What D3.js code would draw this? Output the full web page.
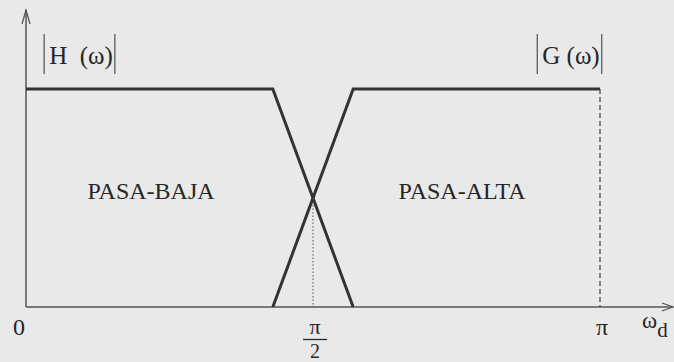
<!DOCTYPE html>
<html>
<head>
<meta charset="utf-8">
<script src="https://cdn.jsdelivr.net/npm/d3@7"></script>
<style>
  body { margin: 0; background: #e9e9e9; }
</style>
</head>
<body>
<div id="chart"></div>
<script>
// frequency in units of pi, magnitude 0..1
const lowPass = [[0, 1], [0.43, 1], [0.57, 0]];
const highPass = [[0.43, 0], [0.57, 1], [1, 1]];
const crossing = [0.5, 0.5];
const xTicks = [{ v: 0, label: "0" }, { v: 1, label: "π" }];

let width = 674,
  height = 362,
  margin = ({ top: 10, right: 1, bottom: 55, left: 26 });

const svg = d3.select("#chart")
  .append("svg")
  .attr("width", width)
  .attr("height", height)
  .style("font-family", "'Liberation Serif', 'Times New Roman', serif");

let x = d3.scaleLinear()
  .domain([0, 1])
  .range([margin.left, 600]);

let y = d3.scaleLinear()
  .domain([0, 1])
  .range([height - margin.bottom, 89]);

const ink = "#333";
const txt = "#262626";

// axes
svg.append("line")
  .attr("x1", x(0)).attr("x2", width - margin.right)
  .attr("y1", y(0)).attr("y2", y(0))
  .attr("stroke", "#555").attr("stroke-width", 1.5);
svg.append("line")
  .attr("x1", x(0)).attr("x2", x(0))
  .attr("y1", y(0)).attr("y2", margin.top)
  .attr("stroke", "#555").attr("stroke-width", 1.5);

// arrow heads
svg.append("path")
  .attr("d", `M${width - 12},${y(0) - 4} L${width - margin.right},${y(0)} L${width - 12},${y(0) + 4}`)
  .attr("fill", "none").attr("stroke", "#555").attr("stroke-width", 1.3);
svg.append("path")
  .attr("d", `M${x(0) - 4},${margin.top + 14} L${x(0)},${margin.top} L${x(0) + 4},${margin.top + 14}`)
  .attr("fill", "none").attr("stroke", "#555").attr("stroke-width", 1.3);

const line = d3.line().x(d => x(d[0])).y(d => y(d[1]));

svg.append("path").datum(lowPass)
  .attr("d", line).attr("fill", "none")
  .attr("stroke", ink).attr("stroke-width", 3);
svg.append("path").datum(highPass)
  .attr("d", line).attr("fill", "none")
  .attr("stroke", ink).attr("stroke-width", 3);

// dotted line at crossing, dashed line at pi
svg.append("line")
  .attr("x1", x(crossing[0])).attr("x2", x(crossing[0]))
  .attr("y1", y(crossing[1])).attr("y2", y(0))
  .attr("stroke", "#555").attr("stroke-width", 1).attr("stroke-dasharray", "1.5,2");
svg.append("line")
  .attr("x1", x(1)).attr("x2", x(1))
  .attr("y1", y(1)).attr("y2", y(0))
  .attr("stroke", "#444").attr("stroke-width", 1.2).attr("stroke-dasharray", "5,3");

// tick labels
svg.selectAll(".tick-label")
  .data(xTicks)
  .join("text")
  .attr("x", d => d.v === 0 ? x(d.v) - 7 : x(d.v) + 2)
  .attr("y", 335)
  .attr("text-anchor", "middle")
  .attr("font-size", 24)
  .attr("fill", txt)
  .text(d => d.label);

// pi/2 fraction
const half = svg.append("g").attr("transform", `translate(${x(0.5) + 2},0)`);
half.append("text").attr("y", 334).attr("text-anchor", "middle")
  .attr("font-size", 22).attr("fill", txt).text("π");
half.append("line").attr("x1", -12).attr("x2", 12)
  .attr("y1", 339.5).attr("y2", 339.5)
  .attr("stroke", txt).attr("stroke-width", 1.3);
half.append("text").attr("y", 357.5).attr("text-anchor", "middle")
  .attr("font-size", 20).attr("fill", txt).text("2");

// omega_d
const om = svg.append("text").attr("x", 642).attr("y", 328)
  .attr("font-size", 23).attr("fill", txt);
om.append("tspan").text("ω");
om.append("tspan").attr("dy", 9).attr("font-size", 21).text("d");

// magnitude labels
function magLabel(cx, label) {
  const t = svg.append("text").attr("x", cx).attr("y", 64)
    .attr("text-anchor", "middle").attr("font-size", 25).attr("fill", txt)
    .text(label);
  const bb = t.node().getBBox();
  [bb.x - 5, bb.x + bb.width + 2].forEach(xx => {
    svg.append("line").attr("x1", xx).attr("x2", xx)
      .attr("y1", 34).attr("y2", 74)
      .attr("stroke", "#666").attr("stroke-width", 1.4);
  });
}
magLabel(81, "H\u00a0\u00a0(ω)");
magLabel(571, "G (ω)");

// region labels
svg.append("text").attr("x", 151).attr("y", 199).attr("text-anchor", "middle")
  .attr("font-size", 24).attr("fill", txt).text("PASA-BAJA");
svg.append("text").attr("x", 462).attr("y", 199).attr("text-anchor", "middle")
  .attr("font-size", 24).attr("fill", txt).text("PASA-ALTA");
</script>
</body>
</html>
